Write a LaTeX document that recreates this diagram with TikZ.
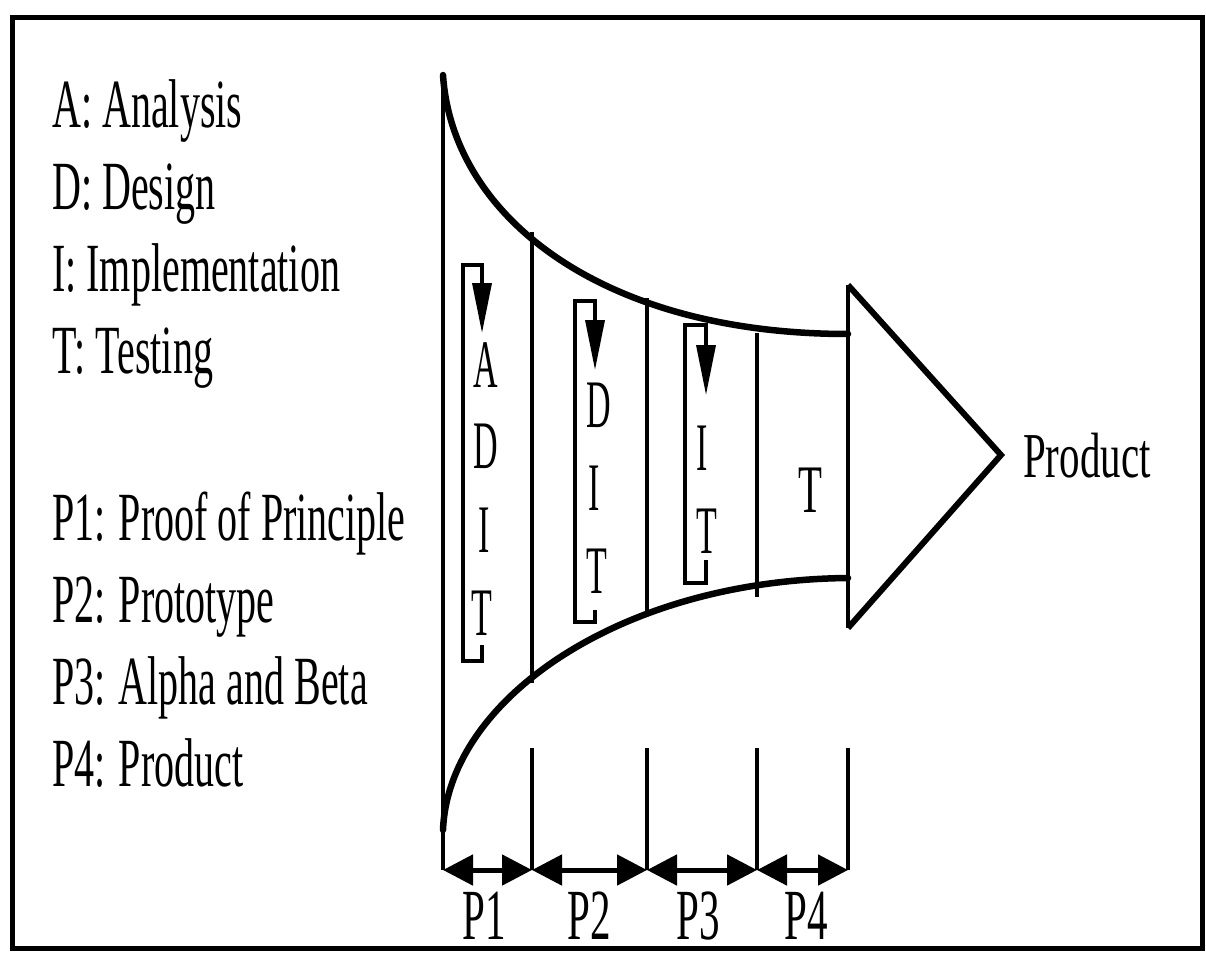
\documentclass[tikz,border=0pt]{standalone}
\usepackage{graphicx}
\usepackage{fontspec}
\setmainfont{Liberation Serif}
\usetikzlibrary{arrows.meta}
\newcommand{\legtxt}[1]{\scalebox{0.58}[1]{\fontsize{69pt}{69pt}\selectfont #1}}
\newcommand{\funtxt}[1]{\scalebox{0.5}[1]{\fontsize{68pt}{68pt}\selectfont #1}}
\newcommand{\pertxt}[1]{\scalebox{0.57}[1]{\fontsize{72pt}{72pt}\selectfont #1}}
\newcommand{\prodtxt}[1]{\scalebox{0.64}[1]{\fontsize{64pt}{64pt}\selectfont #1}}
\begin{document}
\begin{tikzpicture}[x=1pt,y=-1pt,
  leg/.style={anchor=base west, inner sep=0pt},
  funl/.style={anchor=base, inner sep=0pt},
  curve/.style={line width=6.5pt, line cap=round},
  divider/.style={line width=3.5pt},
  loop/.style={line width=3.5pt, line join=miter, -{Triangle[length=50pt,width=19pt]}},
  period/.style={line width=5pt, {Triangle[length=30pt,width=30pt]}-{Triangle[length=30pt,width=30pt]}}]
\useasboundingbox (0,0) rectangle (1206,953);
\fill[white] (0,0) rectangle (1206,953);
% frame
\draw[line width=5pt] (12,17) rectangle (1202,948);
% legend
\node[leg] (la) at (52,127) {\legtxt{A: Analysis}};
\node[leg] (ld) at (52,209) {\legtxt{D: Design}};
\node[leg] (li) at (52,291) {\legtxt{I: Implementation}};
\node[leg] (lt) at (52,373) {\legtxt{T: Testing}};
\node[leg] (lp1) at (52,540) {\legtxt{P1: Proof of Principle}};
\node[leg] (lp2) at (52,622) {\legtxt{P2: Prototype}};
\node[leg] (lp3) at (52,704) {\legtxt{P3: Alpha and Beta}};
\node[leg] (lp4) at (52,786) {\legtxt{P4: Product}};
% funnel
\coordinate (ftop) at (443,75);
\coordinate (fbotc) at (443,830);
\coordinate (x0) at (443,870);
\coordinate (x1) at (532,870);
\coordinate (x2) at (647,870);
\coordinate (x3) at (757,870);
\coordinate (x4) at (848,870);
\coordinate (ctop) at (848,334);
\coordinate (cbot) at (848,578);
\draw[divider] (ftop) -- (x0);
\draw[curve] (ftop) .. controls (452,215) and (600,334) .. (ctop);
\draw[curve] (fbotc) .. controls (448,700) and (620,580) .. (cbot);
\draw[divider] (532,232) -- (532,683);
\draw[divider] (647,298) -- (647,612);
\draw[divider] (757,333) -- (757,597);
% product triangle
\coordinate (ttop) at (848,285);
\coordinate (ttip) at (1001,455);
\coordinate (tbot) at (848,628);
\draw[divider] (ttop) -- (tbot);
\draw[line width=6pt, line join=miter] (ttop) -- (ttip) -- (tbot);
\node[anchor=base west, inner sep=0pt] (prod) at (1023,477) {\prodtxt{Product}};
% loops
\draw[loop] (482,645) -- (482,661) -- (463,661) -- (463,265) -- (482,265) -- (482,333);
\draw[loop] (595,610) -- (595,622) -- (575,622) -- (575,301) -- (595,301) -- (595,370);
\draw[loop] (706,560) -- (706,583) -- (685,583) -- (685,325) -- (706,325) -- (706,395);
% column letters
\node[funl] (c1a) at (486,387) {\funtxt{A}};
\node[funl] (c1d) at (486,468) {\funtxt{D}};
\node[funl] (c1i) at (484,552) {\funtxt{I}};
\node[funl] (c1t) at (482,635) {\funtxt{T}};
\node[funl] (c2d) at (599,427) {\funtxt{D}};
\node[funl] (c2i) at (594,510) {\funtxt{I}};
\node[funl] (c2t) at (597,593) {\funtxt{T}};
\node[funl] (c3i) at (702,470) {\funtxt{I}};
\node[funl] (c3t) at (707,553) {\funtxt{T}};
\node[funl] (c4t) at (810,512) {\scalebox{1.15}[1]{\funtxt{T}}};
% period ticks
\draw[divider] (532,748) -- (x1);
\draw[divider] (647,748) -- (x2);
\draw[divider] (757,748) -- (x3);
\draw[divider] (848,748) -- (x4);
\draw[period] (x0) -- (x1);
\draw[period] (x1) -- (x2);
\draw[period] (x2) -- (x3);
\draw[period] (x3) -- (x4);
\node[funl] (p1) at (484,939) {\pertxt{P1}};
\node[funl] (p2) at (589,939) {\pertxt{P2}};
\node[funl] (p3) at (698,939) {\pertxt{P3}};
\node[funl] (p4) at (806,939) {\pertxt{P4}};
\end{tikzpicture}
\end{document}
